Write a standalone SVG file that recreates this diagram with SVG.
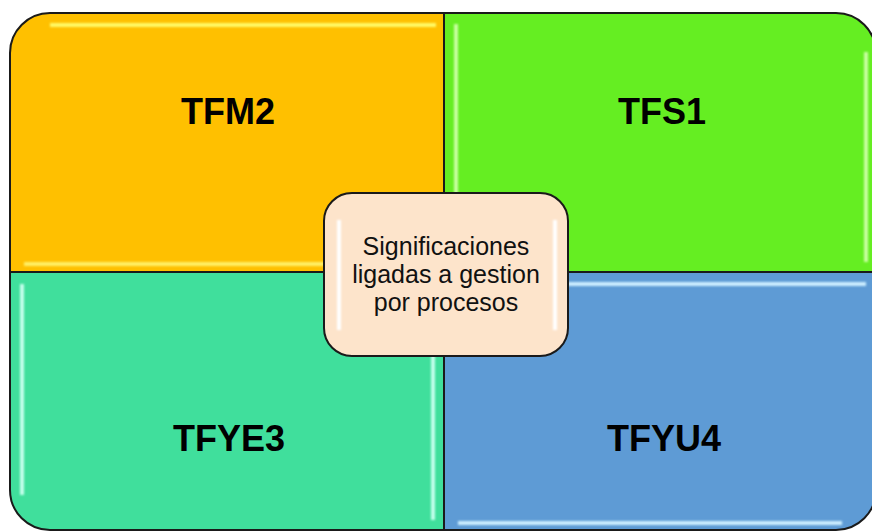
<svg xmlns="http://www.w3.org/2000/svg" width="872" height="532" viewBox="0 0 872 532">
  <defs>
    <filter id="soft" filterUnits="userSpaceOnUse" x="0" y="0" width="872" height="532">
      <feGaussianBlur stdDeviation="0.9"/>
    </filter>
    <style>
      .quad { stroke: #1a1a1a; stroke-width: 2; }
      .hl { fill: none; stroke-width: 4; stroke-linecap: butt; filter: url(#soft); }
      .big { font-family: "Liberation Sans", Arial, sans-serif; font-weight: bold; font-size: 36px; fill: #000; text-anchor: middle; }
      .small { font-family: "Liberation Sans", Arial, sans-serif; font-size: 25px; fill: #111; text-anchor: middle; }
    </style>
  </defs>
  <rect width="872" height="532" fill="#ffffff"/>

  <g id="tfm2">
    <path class="quad" d="M10,272 V53 A40,40 0 0 1 50,13 H444 V272 Z" fill="#FFC000"/>
    <path class="hl" d="M50,25 H436" stroke="#FFFA66"/>
    <path class="hl" d="M24,264 H436" stroke="#FFF066"/>
    <text class="big" x="228" y="124">TFM2</text>
  </g>

  <g id="tfs1">
    <path class="quad" d="M444,13 H836 A40,40 0 0 1 876,53 V272 H444 Z" fill="#65EE22"/>
    <path class="hl" d="M456,24 V262" stroke="#C8FFA0"/>
    <path class="hl" d="M866,52 V262" stroke="#C8FFA0"/>
    <text class="big" x="662" y="124">TFS1</text>
  </g>

  <g id="tfye3">
    <path class="quad" d="M10,272 H444 V530 H50 A40,40 0 0 1 10,490 Z" fill="#40DF9C"/>
    <path class="hl" d="M22,284 V495" stroke="#C4FFEC"/>
    <path class="hl" d="M433,284 V520" stroke="#C4FFEC"/>
    <text class="big" x="229" y="451">TFYE3</text>
  </g>

  <g id="tfyu4">
    <path class="quad" d="M444,272 H876 V490 A40,40 0 0 1 836,530 H444 Z" fill="#5E9BD5"/>
    <path class="hl" d="M456,284 H866" stroke="#CCEEFF"/>
    <path class="hl" d="M458,523 H842" stroke="#CCEEFF"/>
    <text class="big" x="664" y="451">TFYU4</text>
  </g>

  <g id="center">
    <rect x="324" y="193" width="244" height="163" rx="28" ry="28" fill="#FDE4CB" stroke="#1a1a1a" stroke-width="2"/>
    <path class="hl" d="M339,220 V330" stroke="#FFFFFF" stroke-width="3"/>
    <path class="hl" d="M555,220 V330" stroke="#FFFFFF" stroke-width="3"/>
    <text class="small" x="446" y="255">Significaciones</text>
    <text class="small" x="446" y="283">ligadas a gestion</text>
    <text class="small" x="446" y="311">por procesos</text>
  </g>
</svg>
